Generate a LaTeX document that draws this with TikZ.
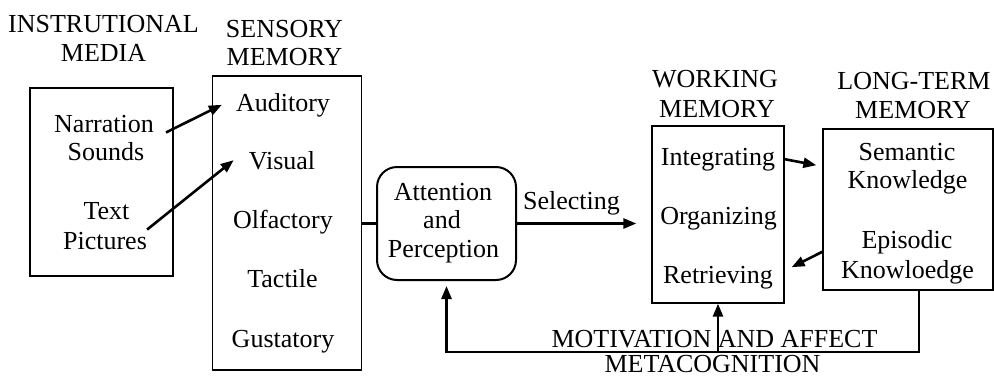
\documentclass[tikz,border=0pt]{standalone}
\usepackage{fontspec}
\setmainfont{Liberation Serif}
\usetikzlibrary{arrows.meta}
\tikzset{
    % Boxes
    box/.style={draw, line width=1.3pt, inner sep=0pt},
    round box/.style={box, line width=2pt, rounded corners=20pt},
    %
    % Text
    txt/.style={anchor=base, inner sep=0pt, font=\fontsize{26}{30}\selectfont},
    %
    % Arrows
    arrow tip/.tip={Triangle[length=13pt,width=10pt]},
    arr/.style={-{arrow tip}, line width=2.6pt},
    link/.style={line width=2.6pt}
}

\begin{document}
\begin{tikzpicture}[x=1pt,y=-1pt]
        \useasboundingbox (0,0) rectangle (994,378);
        % boxes
        \node[box, minimum width=143, minimum height=188] (media) at (101.5,182) {};
        \node[box, minimum width=149.5, minimum height=294] (sens) at (287,223) {};
        \node[round box, minimum width=139, minimum height=113] (att) at (446.5,223.5) {};
        \node[box, minimum width=132, minimum height=177] (wm) at (718,214.5) {};
        \node[box, minimum width=170, minimum height=161] (ltm) at (908,209.5) {};
        % titles
        \node[txt] (mediaA) at (103.5,32) {INSTRUTIONAL};
        \node[txt] (mediaB) at (103.5,61) {MEDIA};
        \node[txt] (sensA) at (284.5,37) {SENSORY};
        \node[txt] (sensB) at (284.5,65) {MEMORY};
        \node[txt] (wmA) at (715,87) {WORKING};
        \node[txt] (wmB) at (717,117) {MEMORY};
        \node[txt] (ltmA) at (914,89) {LONG-TERM};
        \node[txt] (ltmB) at (913,118) {MEMORY};
        % instructional media
        \node[txt] (narr) at (104,132) {Narration};
        \node[txt] (snd) at (106,160) {Sounds};
        \node[txt] (txt) at (106.5,219) {Text};
        \node[txt] (pic) at (105,249) {Pictures};
        % sensory memory
        \node[txt] (aud) at (283,111) {Auditory};
        \node[txt] (vis) at (282,169) {Visual};
        \node[txt] (olf) at (283,228) {Olfactory};
        \node[txt] (tac) at (282.5,287) {Tactile};
        \node[txt] (gus) at (283,347) {Gustatory};
        % attention and perception
        \node[txt] (attA) at (443,200) {Attention};
        \node[txt] (attB) at (442,228) {and};
        \node[txt] (attC) at (443.5,257) {Perception};
        \node[txt] (sel) at (571.5,209) {Selecting};
        % working memory
        \node[txt] (intg) at (718,165) {Integrating};
        \node[txt] (org) at (718.5,224) {Organizing};
        \node[txt] (retr) at (718,283) {Retrieving};
        % long-term memory
        \node[txt] (sem) at (907,160) {Semantic};
        \node[txt] (semB) at (907.5,188) {Knowledge};
        \node[txt] (epi) at (907,248) {Episodic};
        \node[txt] (epiB) at (907.5,278) {Knowloedge};
        % bottom labels
        \node[txt] (mot) at (714.5,347) {MOTIVATION AND AFFECT};
        \node[txt] (meta) at (712.5,372) {METACOGNITION};
        % connectors
        \draw[arr] ([xshift=12]narr.south east) -- ([xshift=-14]aud.west);
        \draw[arr] ([yshift=2]pic.north east) -- ([xshift=-15]vis.west);
        \draw[link] (sens.east |- att.west) -- (att.west);
        \draw[arr] (att.east) -- ([xshift=-15]wm.west |- att.east);
        \draw[arr] (wm.east |- intg.east) -- ([shift={(-6,6)}]ltm.west |- intg.east);
        \draw[arr] ([shift={(0,10)}]ltm.west |- epi.west) -- ([shift={(7,-10)}]wm.east |- retr.east);
        \coordinate (fb) at (718,352);
        \draw[arr, shorten >=5pt] ([xshift=11]ltm.south) |- (fb) -| (att.south);
        \draw[arr] (fb) -- (wm.south);
    \end{tikzpicture}
\end{document}
